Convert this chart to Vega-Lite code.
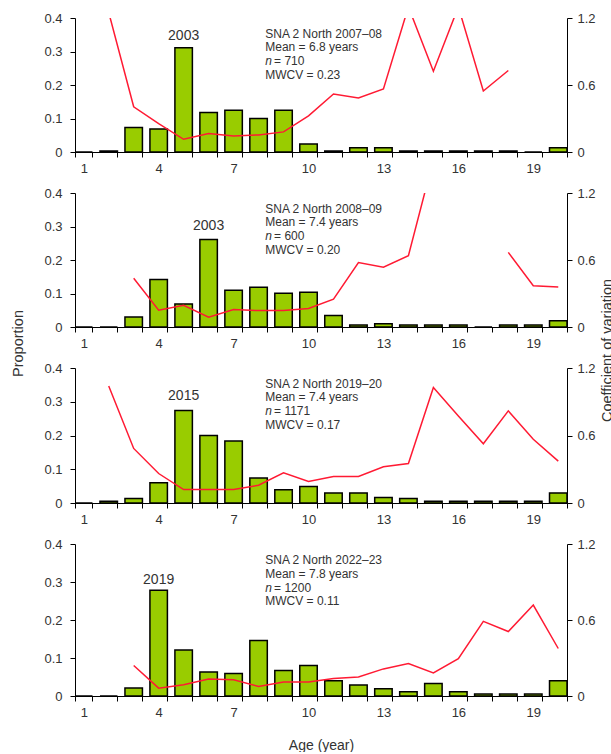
{
"$schema": "https://vega.github.io/schema/vega-lite/v6.json",
"padding": {"top": 12, "left": 10, "right": 0, "bottom": 0},
"background": "white",
"bounds": "flush",
"spacing": 41,
"datasets": {
"ages": [
{"s":"2007–08","age":1,"prop":0,"cv":null},
{"s":"2007–08","age":2,"prop":0.003,"cv":1.25},
{"s":"2007–08","age":3,"prop":0.073,"cv":0.405},
{"s":"2007–08","age":4,"prop":0.069,"cv":0.255},
{"s":"2007–08","age":5,"prop":0.311,"cv":0.114,"cohort":"2003"},
{"s":"2007–08","age":6,"prop":0.118,"cv":0.165},
{"s":"2007–08","age":7,"prop":0.125,"cv":0.144},
{"s":"2007–08","age":8,"prop":0.1,"cv":0.153},
{"s":"2007–08","age":9,"prop":0.125,"cv":0.18},
{"s":"2007–08","age":10,"prop":0.024,"cv":0.324},
{"s":"2007–08","age":11,"prop":0.003,"cv":0.52},
{"s":"2007–08","age":12,"prop":0.013,"cv":0.483},
{"s":"2007–08","age":13,"prop":0.013,"cv":0.564},
{"s":"2007–08","age":14,"prop":0.003,"cv":1.3},
{"s":"2007–08","age":15,"prop":0.003,"cv":0.723},
{"s":"2007–08","age":16,"prop":0.003,"cv":1.3},
{"s":"2007–08","age":17,"prop":0.003,"cv":0.546},
{"s":"2007–08","age":18,"prop":0.003,"cv":0.73},
{"s":"2007–08","age":19,"prop":0,"cv":null},
{"s":"2007–08","age":20,"prop":0.013,"cv":null},
{"s":"2008–09","age":1,"prop":0,"cv":null},
{"s":"2008–09","age":2,"prop":0,"cv":null},
{"s":"2008–09","age":3,"prop":0.03,"cv":0.436},
{"s":"2008–09","age":4,"prop":0.142,"cv":0.15},
{"s":"2008–09","age":5,"prop":0.069,"cv":0.195},
{"s":"2008–09","age":6,"prop":0.261,"cv":0.087,"cohort":"2003"},
{"s":"2008–09","age":7,"prop":0.11,"cv":0.156},
{"s":"2008–09","age":8,"prop":0.119,"cv":0.147},
{"s":"2008–09","age":9,"prop":0.101,"cv":0.147},
{"s":"2008–09","age":10,"prop":0.104,"cv":0.165},
{"s":"2008–09","age":11,"prop":0.034,"cv":0.25},
{"s":"2008–09","age":12,"prop":0.006,"cv":0.577},
{"s":"2008–09","age":13,"prop":0.01,"cv":0.535},
{"s":"2008–09","age":14,"prop":0.006,"cv":0.638},
{"s":"2008–09","age":15,"prop":0.006,"cv":1.5},
{"s":"2008–09","age":16,"prop":0.006,"cv":null},
{"s":"2008–09","age":17,"prop":0,"cv":null},
{"s":"2008–09","age":18,"prop":0.006,"cv":0.668},
{"s":"2008–09","age":19,"prop":0.006,"cv":0.37},
{"s":"2008–09","age":20,"prop":0.019,"cv":0.358},
{"s":"2019–20","age":1,"prop":0,"cv":null},
{"s":"2019–20","age":2,"prop":0.005,"cv":1.04},
{"s":"2019–20","age":3,"prop":0.013,"cv":0.485},
{"s":"2019–20","age":4,"prop":0.06,"cv":0.262},
{"s":"2019–20","age":5,"prop":0.274,"cv":0.119,"cohort":"2015"},
{"s":"2019–20","age":6,"prop":0.2,"cv":0.119},
{"s":"2019–20","age":7,"prop":0.184,"cv":0.119},
{"s":"2019–20","age":8,"prop":0.074,"cv":0.158},
{"s":"2019–20","age":9,"prop":0.039,"cv":0.268},
{"s":"2019–20","age":10,"prop":0.049,"cv":0.191},
{"s":"2019–20","age":11,"prop":0.03,"cv":0.235},
{"s":"2019–20","age":12,"prop":0.03,"cv":0.235},
{"s":"2019–20","age":13,"prop":0.016,"cv":0.322},
{"s":"2019–20","age":14,"prop":0.013,"cv":0.351},
{"s":"2019–20","age":15,"prop":0.005,"cv":1.027},
{"s":"2019–20","age":16,"prop":0.005,"cv":0.774},
{"s":"2019–20","age":17,"prop":0.005,"cv":0.527},
{"s":"2019–20","age":18,"prop":0.005,"cv":0.819},
{"s":"2019–20","age":19,"prop":0.005,"cv":0.566},
{"s":"2019–20","age":20,"prop":0.03,"cv":0.372},
{"s":"2022–23","age":1,"prop":0,"cv":null},
{"s":"2022–23","age":2,"prop":0,"cv":null},
{"s":"2022–23","age":3,"prop":0.021,"cv":0.241},
{"s":"2022–23","age":4,"prop":0.278,"cv":0.062,"cohort":"2019"},
{"s":"2022–23","age":5,"prop":0.121,"cv":0.088},
{"s":"2022–23","age":6,"prop":0.063,"cv":0.134},
{"s":"2022–23","age":7,"prop":0.059,"cv":0.129},
{"s":"2022–23","age":8,"prop":0.146,"cv":0.075},
{"s":"2022–23","age":9,"prop":0.067,"cv":0.11},
{"s":"2022–23","age":10,"prop":0.08,"cv":0.11},
{"s":"2022–23","age":11,"prop":0.04,"cv":0.139},
{"s":"2022–23","age":12,"prop":0.029,"cv":0.15},
{"s":"2022–23","age":13,"prop":0.019,"cv":0.214},
{"s":"2022–23","age":14,"prop":0.011,"cv":0.257},
{"s":"2022–23","age":15,"prop":0.033,"cv":0.182},
{"s":"2022–23","age":16,"prop":0.011,"cv":0.295},
{"s":"2022–23","age":17,"prop":0.005,"cv":0.589},
{"s":"2022–23","age":18,"prop":0.005,"cv":0.509},
{"s":"2022–23","age":19,"prop":0.005,"cv":0.718},
{"s":"2022–23","age":20,"prop":0.04,"cv":0.375}
],
"notes": [
{"s":"2007–08","l1":"SNA 2 North 2007–08","l2":"Mean = 6.8 years","n":"n","nv":"= 710","l4":"MWCV = 0.23"},
{"s":"2008–09","l1":"SNA 2 North 2008–09","l2":"Mean = 7.4 years","n":"n","nv":"= 600","l4":"MWCV = 0.20"},
{"s":"2019–20","l1":"SNA 2 North 2019–20","l2":"Mean = 7.4 years","n":"n","nv":"= 1171","l4":"MWCV = 0.17"},
{"s":"2022–23","l1":"SNA 2 North 2022–23","l2":"Mean = 7.8 years","n":"n","nv":"= 1200","l4":"MWCV = 0.11"}
]
},
"vconcat": [
{
"width": 492, "height": 134,
"resolve": {"scale": {"y": "independent"}},
"layer": [
{"data": {"name": "ages"}, "transform": [{"filter": "datum.s == '2007–08'"}],
"mark": {"type": "bar", "fill": "#99cc00", "stroke": "#000", "strokeWidth": 1.5},
"encoding": {
"x": {"field": "age", "type": "ordinal", "scale": {"domain": [1,2,3,4,5,6,7,8,9,10,11,12,13,14,15,16,17,18,19,20], "paddingInner": 0.3, "paddingOuter": 0}, "axis": {"title": null, "labelExpr": "(datum.value - 1) % 3 == 0 ? datum.label : ''"}},
"y": {"field": "prop", "type": "quantitative", "scale": {"domain": [0, 0.4], "nice": false}, "axis": {"values": [0, 0.1, 0.2, 0.3, 0.4], "labelExpr": "datum.value == 0 ? '0' : format(datum.value, '.1f')", "title": null, "labelPadding": 8}}
}},
{"data": {"name": "ages"}, "transform": [{"filter": "datum.s == '2007–08' && datum.cohort"}],
"mark": {"type": "text", "fontSize": 14, "baseline": "bottom", "dy": -5, "color": "#333"},
"encoding": {"x": {"field": "age", "type": "ordinal"}, "y": {"field": "prop", "type": "quantitative", "scale": {"domain": [0, 0.4], "nice": false}, "axis": null}, "text": {"field": "cohort"}}},
{"data": {"name": "notes"}, "transform": [{"filter": "datum.s == '2007–08'"}],
"mark": {"type": "text", "fontSize": 12, "align": "left", "baseline": "middle", "dx": 6.7, "color": "#333"},
"encoding": {"x": {"datum": 8, "type": "ordinal"}, "y": {"datum": 0.3537, "type": "quantitative", "scale": {"domain": [0, 0.4], "nice": false}, "axis": null}, "text": {"field": "l1"}}},
{"data": {"name": "notes"}, "transform": [{"filter": "datum.s == '2007–08'"}],
"mark": {"type": "text", "fontSize": 12, "align": "left", "baseline": "middle", "dx": 6.7, "dy": 13.8, "color": "#333"},
"encoding": {"x": {"datum": 8, "type": "ordinal"}, "y": {"datum": 0.3537, "type": "quantitative", "scale": {"domain": [0, 0.4], "nice": false}, "axis": null}, "text": {"field": "l2"}}},
{"data": {"name": "notes"}, "transform": [{"filter": "datum.s == '2007–08'"}],
"mark": {"type": "text", "fontSize": 12, "fontStyle": "italic", "align": "left", "baseline": "middle", "dx": 6.7, "dy": 27.6, "color": "#333"},
"encoding": {"x": {"datum": 8, "type": "ordinal"}, "y": {"datum": 0.3537, "type": "quantitative", "scale": {"domain": [0, 0.4], "nice": false}, "axis": null}, "text": {"field": "n"}}},
{"data": {"name": "notes"}, "transform": [{"filter": "datum.s == '2007–08'"}],
"mark": {"type": "text", "fontSize": 12, "align": "left", "baseline": "middle", "dx": 15.5, "dy": 27.6, "color": "#333"},
"encoding": {"x": {"datum": 8, "type": "ordinal"}, "y": {"datum": 0.3537, "type": "quantitative", "scale": {"domain": [0, 0.4], "nice": false}, "axis": null}, "text": {"field": "nv"}}},
{"data": {"name": "notes"}, "transform": [{"filter": "datum.s == '2007–08'"}],
"mark": {"type": "text", "fontSize": 12, "align": "left", "baseline": "middle", "dx": 6.7, "dy": 41.4, "color": "#333"},
"encoding": {"x": {"datum": 8, "type": "ordinal"}, "y": {"datum": 0.3537, "type": "quantitative", "scale": {"domain": [0, 0.4], "nice": false}, "axis": null}, "text": {"field": "l4"}}},
{"data": {"name": "ages"}, "transform": [{"filter": "datum.s == '2007–08'"}],
"mark": {"type": "line", "color": "#ff1a33", "strokeWidth": 1.5, "clip": true, "invalid": "break-paths-show-domains"},
"encoding": {
"x": {"field": "age", "type": "ordinal"},
"y": {"field": "cv", "type": "quantitative", "scale": {"domain": [0, 1.2], "nice": false}, "axis": {"orient": "right", "values": [0, 0.6, 1.2], "labelExpr": "datum.value == 0 ? '0' : format(datum.value, '.1f')", "title": null, "labelPadding": 5}}
}}
]
},
{
"width": 492, "height": 134,
"resolve": {"scale": {"y": "independent"}},
"layer": [
{"data": {"name": "ages"}, "transform": [{"filter": "datum.s == '2008–09'"}],
"mark": {"type": "bar", "fill": "#99cc00", "stroke": "#000", "strokeWidth": 1.5},
"encoding": {
"x": {"field": "age", "type": "ordinal", "scale": {"domain": [1,2,3,4,5,6,7,8,9,10,11,12,13,14,15,16,17,18,19,20], "paddingInner": 0.3, "paddingOuter": 0}, "axis": {"title": null, "labelExpr": "(datum.value - 1) % 3 == 0 ? datum.label : ''"}},
"y": {"field": "prop", "type": "quantitative", "scale": {"domain": [0, 0.4], "nice": false}, "axis": {"values": [0, 0.1, 0.2, 0.3, 0.4], "labelExpr": "datum.value == 0 ? '0' : format(datum.value, '.1f')", "title": "Proportion", "titleY": 150, "titlePadding": 18, "labelPadding": 8}}
}},
{"data": {"name": "ages"}, "transform": [{"filter": "datum.s == '2008–09' && datum.cohort"}],
"mark": {"type": "text", "fontSize": 14, "baseline": "bottom", "dy": -7, "color": "#333"},
"encoding": {"x": {"field": "age", "type": "ordinal"}, "y": {"field": "prop", "type": "quantitative", "scale": {"domain": [0, 0.4], "nice": false}, "axis": null}, "text": {"field": "cohort"}}},
{"data": {"name": "notes"}, "transform": [{"filter": "datum.s == '2008–09'"}],
"mark": {"type": "text", "fontSize": 12, "align": "left", "baseline": "middle", "dx": 6.7, "color": "#333"},
"encoding": {"x": {"datum": 8, "type": "ordinal"}, "y": {"datum": 0.3537, "type": "quantitative", "scale": {"domain": [0, 0.4], "nice": false}, "axis": null}, "text": {"field": "l1"}}},
{"data": {"name": "notes"}, "transform": [{"filter": "datum.s == '2008–09'"}],
"mark": {"type": "text", "fontSize": 12, "align": "left", "baseline": "middle", "dx": 6.7, "dy": 13.8, "color": "#333"},
"encoding": {"x": {"datum": 8, "type": "ordinal"}, "y": {"datum": 0.3537, "type": "quantitative", "scale": {"domain": [0, 0.4], "nice": false}, "axis": null}, "text": {"field": "l2"}}},
{"data": {"name": "notes"}, "transform": [{"filter": "datum.s == '2008–09'"}],
"mark": {"type": "text", "fontSize": 12, "fontStyle": "italic", "align": "left", "baseline": "middle", "dx": 6.7, "dy": 27.6, "color": "#333"},
"encoding": {"x": {"datum": 8, "type": "ordinal"}, "y": {"datum": 0.3537, "type": "quantitative", "scale": {"domain": [0, 0.4], "nice": false}, "axis": null}, "text": {"field": "n"}}},
{"data": {"name": "notes"}, "transform": [{"filter": "datum.s == '2008–09'"}],
"mark": {"type": "text", "fontSize": 12, "align": "left", "baseline": "middle", "dx": 15.5, "dy": 27.6, "color": "#333"},
"encoding": {"x": {"datum": 8, "type": "ordinal"}, "y": {"datum": 0.3537, "type": "quantitative", "scale": {"domain": [0, 0.4], "nice": false}, "axis": null}, "text": {"field": "nv"}}},
{"data": {"name": "notes"}, "transform": [{"filter": "datum.s == '2008–09'"}],
"mark": {"type": "text", "fontSize": 12, "align": "left", "baseline": "middle", "dx": 6.7, "dy": 41.4, "color": "#333"},
"encoding": {"x": {"datum": 8, "type": "ordinal"}, "y": {"datum": 0.3537, "type": "quantitative", "scale": {"domain": [0, 0.4], "nice": false}, "axis": null}, "text": {"field": "l4"}}},
{"data": {"name": "ages"}, "transform": [{"filter": "datum.s == '2008–09'"}],
"mark": {"type": "line", "color": "#ff1a33", "strokeWidth": 1.5, "clip": true, "invalid": "break-paths-show-domains"},
"encoding": {
"x": {"field": "age", "type": "ordinal"},
"y": {"field": "cv", "type": "quantitative", "scale": {"domain": [0, 1.2], "nice": false}, "axis": {"orient": "right", "values": [0, 0.6, 1.2], "labelExpr": "datum.value == 0 ? '0' : format(datum.value, '.1f')", "title": "Coefficient of variation", "titleAngle": -90, "titleY": 157, "titlePadding": 19, "labelPadding": 5}}
}}
]
},
{
"width": 492, "height": 135,
"resolve": {"scale": {"y": "independent"}},
"layer": [
{"data": {"name": "ages"}, "transform": [{"filter": "datum.s == '2019–20'"}],
"mark": {"type": "bar", "fill": "#99cc00", "stroke": "#000", "strokeWidth": 1.5},
"encoding": {
"x": {"field": "age", "type": "ordinal", "scale": {"domain": [1,2,3,4,5,6,7,8,9,10,11,12,13,14,15,16,17,18,19,20], "paddingInner": 0.3, "paddingOuter": 0}, "axis": {"title": null, "labelExpr": "(datum.value - 1) % 3 == 0 ? datum.label : ''"}},
"y": {"field": "prop", "type": "quantitative", "scale": {"domain": [0, 0.4], "nice": false}, "axis": {"values": [0, 0.1, 0.2, 0.3, 0.4], "labelExpr": "datum.value == 0 ? '0' : format(datum.value, '.1f')", "title": null, "labelPadding": 8}}
}},
{"data": {"name": "ages"}, "transform": [{"filter": "datum.s == '2019–20' && datum.cohort"}],
"mark": {"type": "text", "fontSize": 14, "baseline": "bottom", "dy": -8, "color": "#333"},
"encoding": {"x": {"field": "age", "type": "ordinal"}, "y": {"field": "prop", "type": "quantitative", "scale": {"domain": [0, 0.4], "nice": false}, "axis": null}, "text": {"field": "cohort"}}},
{"data": {"name": "notes"}, "transform": [{"filter": "datum.s == '2019–20'"}],
"mark": {"type": "text", "fontSize": 12, "align": "left", "baseline": "middle", "dx": 6.7, "color": "#333"},
"encoding": {"x": {"datum": 8, "type": "ordinal"}, "y": {"datum": 0.354, "type": "quantitative", "scale": {"domain": [0, 0.4], "nice": false}, "axis": null}, "text": {"field": "l1"}}},
{"data": {"name": "notes"}, "transform": [{"filter": "datum.s == '2019–20'"}],
"mark": {"type": "text", "fontSize": 12, "align": "left", "baseline": "middle", "dx": 6.7, "dy": 13.8, "color": "#333"},
"encoding": {"x": {"datum": 8, "type": "ordinal"}, "y": {"datum": 0.354, "type": "quantitative", "scale": {"domain": [0, 0.4], "nice": false}, "axis": null}, "text": {"field": "l2"}}},
{"data": {"name": "notes"}, "transform": [{"filter": "datum.s == '2019–20'"}],
"mark": {"type": "text", "fontSize": 12, "fontStyle": "italic", "align": "left", "baseline": "middle", "dx": 6.7, "dy": 27.6, "color": "#333"},
"encoding": {"x": {"datum": 8, "type": "ordinal"}, "y": {"datum": 0.354, "type": "quantitative", "scale": {"domain": [0, 0.4], "nice": false}, "axis": null}, "text": {"field": "n"}}},
{"data": {"name": "notes"}, "transform": [{"filter": "datum.s == '2019–20'"}],
"mark": {"type": "text", "fontSize": 12, "align": "left", "baseline": "middle", "dx": 15.5, "dy": 27.6, "color": "#333"},
"encoding": {"x": {"datum": 8, "type": "ordinal"}, "y": {"datum": 0.354, "type": "quantitative", "scale": {"domain": [0, 0.4], "nice": false}, "axis": null}, "text": {"field": "nv"}}},
{"data": {"name": "notes"}, "transform": [{"filter": "datum.s == '2019–20'"}],
"mark": {"type": "text", "fontSize": 12, "align": "left", "baseline": "middle", "dx": 6.7, "dy": 41.4, "color": "#333"},
"encoding": {"x": {"datum": 8, "type": "ordinal"}, "y": {"datum": 0.354, "type": "quantitative", "scale": {"domain": [0, 0.4], "nice": false}, "axis": null}, "text": {"field": "l4"}}},
{"data": {"name": "ages"}, "transform": [{"filter": "datum.s == '2019–20'"}],
"mark": {"type": "line", "color": "#ff1a33", "strokeWidth": 1.5, "clip": true, "invalid": "break-paths-show-domains"},
"encoding": {
"x": {"field": "age", "type": "ordinal"},
"y": {"field": "cv", "type": "quantitative", "scale": {"domain": [0, 1.2], "nice": false}, "axis": {"orient": "right", "values": [0, 0.6, 1.2], "labelExpr": "datum.value == 0 ? '0' : format(datum.value, '.1f')", "title": null, "labelPadding": 5}}
}}
]
},
{
"width": 492, "height": 152,
"resolve": {"scale": {"y": "independent"}},
"layer": [
{"data": {"name": "ages"}, "transform": [{"filter": "datum.s == '2022–23'"}],
"mark": {"type": "bar", "fill": "#99cc00", "stroke": "#000", "strokeWidth": 1.5},
"encoding": {
"x": {"field": "age", "type": "ordinal", "scale": {"domain": [1,2,3,4,5,6,7,8,9,10,11,12,13,14,15,16,17,18,19,20], "paddingInner": 0.3, "paddingOuter": 0}, "axis": {"title": "Age (year)", "titleFontSize": 14, "titlePadding": 19, "labelExpr": "(datum.value - 1) % 3 == 0 ? datum.label : ''"}},
"y": {"field": "prop", "type": "quantitative", "scale": {"domain": [0, 0.4], "nice": false}, "axis": {"values": [0, 0.1, 0.2, 0.3, 0.4], "labelExpr": "datum.value == 0 ? '0' : format(datum.value, '.1f')", "title": null, "labelPadding": 8}}
}},
{"data": {"name": "ages"}, "transform": [{"filter": "datum.s == '2022–23' && datum.cohort"}],
"mark": {"type": "text", "fontSize": 14, "baseline": "bottom", "dy": -3, "color": "#333"},
"encoding": {"x": {"field": "age", "type": "ordinal"}, "y": {"field": "prop", "type": "quantitative", "scale": {"domain": [0, 0.4], "nice": false}, "axis": null}, "text": {"field": "cohort"}}},
{"data": {"name": "notes"}, "transform": [{"filter": "datum.s == '2022–23'"}],
"mark": {"type": "text", "fontSize": 12, "align": "left", "baseline": "middle", "dx": 6.7, "color": "#333"},
"encoding": {"x": {"datum": 8, "type": "ordinal"}, "y": {"datum": 0.358, "type": "quantitative", "scale": {"domain": [0, 0.4], "nice": false}, "axis": null}, "text": {"field": "l1"}}},
{"data": {"name": "notes"}, "transform": [{"filter": "datum.s == '2022–23'"}],
"mark": {"type": "text", "fontSize": 12, "align": "left", "baseline": "middle", "dx": 6.7, "dy": 13.8, "color": "#333"},
"encoding": {"x": {"datum": 8, "type": "ordinal"}, "y": {"datum": 0.358, "type": "quantitative", "scale": {"domain": [0, 0.4], "nice": false}, "axis": null}, "text": {"field": "l2"}}},
{"data": {"name": "notes"}, "transform": [{"filter": "datum.s == '2022–23'"}],
"mark": {"type": "text", "fontSize": 12, "fontStyle": "italic", "align": "left", "baseline": "middle", "dx": 6.7, "dy": 27.6, "color": "#333"},
"encoding": {"x": {"datum": 8, "type": "ordinal"}, "y": {"datum": 0.358, "type": "quantitative", "scale": {"domain": [0, 0.4], "nice": false}, "axis": null}, "text": {"field": "n"}}},
{"data": {"name": "notes"}, "transform": [{"filter": "datum.s == '2022–23'"}],
"mark": {"type": "text", "fontSize": 12, "align": "left", "baseline": "middle", "dx": 15.5, "dy": 27.6, "color": "#333"},
"encoding": {"x": {"datum": 8, "type": "ordinal"}, "y": {"datum": 0.358, "type": "quantitative", "scale": {"domain": [0, 0.4], "nice": false}, "axis": null}, "text": {"field": "nv"}}},
{"data": {"name": "notes"}, "transform": [{"filter": "datum.s == '2022–23'"}],
"mark": {"type": "text", "fontSize": 12, "align": "left", "baseline": "middle", "dx": 6.7, "dy": 41.4, "color": "#333"},
"encoding": {"x": {"datum": 8, "type": "ordinal"}, "y": {"datum": 0.358, "type": "quantitative", "scale": {"domain": [0, 0.4], "nice": false}, "axis": null}, "text": {"field": "l4"}}},
{"data": {"name": "ages"}, "transform": [{"filter": "datum.s == '2022–23'"}],
"mark": {"type": "line", "color": "#ff1a33", "strokeWidth": 1.5, "clip": true, "invalid": "break-paths-show-domains"},
"encoding": {
"x": {"field": "age", "type": "ordinal"},
"y": {"field": "cv", "type": "quantitative", "scale": {"domain": [0, 1.2], "nice": false}, "axis": {"orient": "right", "values": [0, 0.6, 1.2], "labelExpr": "datum.value == 0 ? '0' : format(datum.value, '.1f')", "title": null, "labelPadding": 5}}
}}
]
}
],
"config": {
"view": {"stroke": null},
"font": "Liberation Sans",
"axis": {"grid": false, "domainColor": "#000", "domainWidth": 1, "tickColor": "#000", "tickWidth": 1, "tickSize": 5, "labelFontSize": 13, "labelColor": "#333", "titleFontSize": 14.5, "titleFontWeight": "normal", "titleColor": "#333", "labelFlush": false, "labelOverlap": false},
"axisX": {"labelAngle": 0, "tickBand": "extent", "labelPadding": 5},
"text": {"font": "Liberation Sans"}
}
}
